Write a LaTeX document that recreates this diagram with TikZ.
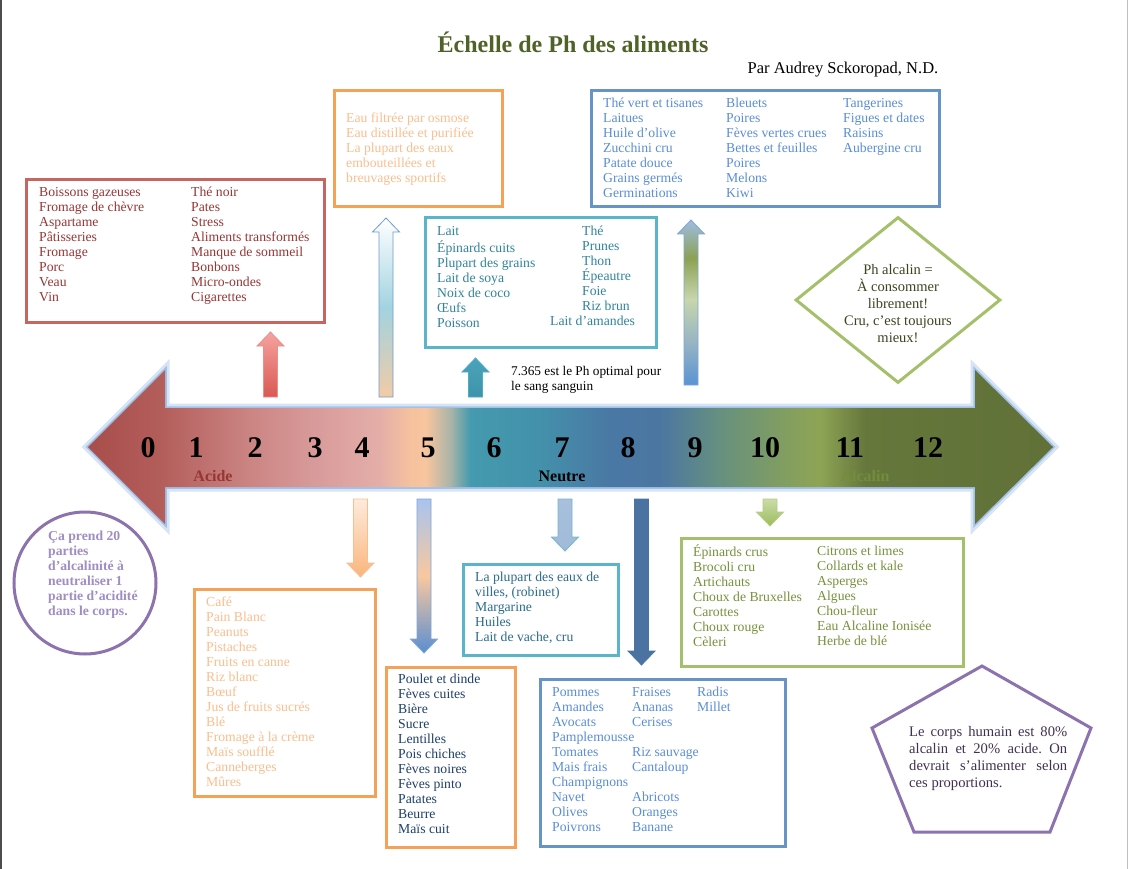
\documentclass[tikz,border=0pt]{standalone}
\usepackage{fontspec}
\setmainfont{Liberation Serif}
\usetikzlibrary{positioning}
\usetikzlibrary{shapes.geometric}

% Colours
\definecolor{titlegreen}{HTML}{4F6228}
\definecolor{acidbd}{HTML}{C76561}
\definecolor{acidtext}{HTML}{953735}
\definecolor{orangebd}{HTML}{F6A158}
\definecolor{peachtext}{HTML}{F9BF8F}
\definecolor{tealbd}{HTML}{5AB4CA}
\definecolor{tealtext}{HTML}{31849B}
\definecolor{tealdark}{HTML}{2B6C8C}
\definecolor{bluebd}{HTML}{6694C6}
\definecolor{bluetext}{HTML}{5A8ED6}
\definecolor{greenbd}{HTML}{A5C06A}
\definecolor{olivetext}{HTML}{76923C}
\definecolor{diamondtext}{HTML}{3D4420}
\definecolor{purplebd}{HTML}{8C73AE}
\definecolor{lilactext}{HTML}{9F8EC2}
\definecolor{plumtext}{HTML}{403152}
\definecolor{navytext}{HTML}{1F3F6B}
\definecolor{glowblue}{HTML}{8DB3E2}

% pH scale colours
\definecolor{ph01}{HTML}{A84E4B}
\definecolor{ph02}{HTML}{B35D5A}
\definecolor{ph03}{HTML}{CB8583}
\definecolor{ph04}{HTML}{D99C9C}
\definecolor{ph05}{HTML}{E4AEA8}
\definecolor{ph06}{HTML}{F5C19E}
\definecolor{ph07}{HTML}{F7C59E}
\definecolor{ph08}{HTML}{A8B4A8}
\definecolor{ph09}{HTML}{449AAE}
\definecolor{ph10}{HTML}{4391AB}
\definecolor{ph11}{HTML}{4A78A4}
\definecolor{ph12}{HTML}{4B76A2}
\definecolor{ph13}{HTML}{66907F}
\definecolor{ph14}{HTML}{849F5E}
\definecolor{ph15}{HTML}{8EA455}
\definecolor{ph16}{HTML}{65773B}
\definecolor{ph17}{HTML}{617138}

\pgfdeclarehorizontalshading{phscale}{100bp}{color(0bp)=(ph01); color(25bp)=(ph01);
  color(28.7bp)=(ph02); color(33.4bp)=(ph03); color(37bp)=(ph04); color(40.1bp)=(ph05);
  color(41.7bp)=(ph06); color(42.5bp)=(ph07); color(43.8bp)=(ph08); color(44.8bp)=(ph09);
  color(48.4bp)=(ph10); color(52bp)=(ph11); color(54.6bp)=(ph12); color(57.7bp)=(ph13);
  color(61.4bp)=(ph14); color(62.9bp)=(ph15); color(65.3bp)=(ph16); color(75bp)=(ph17);
  color(100bp)=(ph17)}

% Arrow colours
\definecolor{redtop}{HTML}{F5A3A0}
\definecolor{redbot}{HTML}{D95853}
\definecolor{redline}{HTML}{E8908C}
\definecolor{watermid}{HTML}{A2D3E0}
\definecolor{waterbot}{HTML}{F2CBA6}
\definecolor{waterline}{HTML}{6F9BD1}
\definecolor{tealtop}{HTML}{4BA3BA}
\definecolor{tealbot}{HTML}{3E93AA}
\definecolor{tealline}{HTML}{4BACC6}
\definecolor{greenline}{HTML}{7FA6D6}
\definecolor{peachtop}{HTML}{FDEBDD}
\definecolor{peachbot}{HTML}{FAB57C}
\definecolor{peachline}{HTML}{F9BE90}
\definecolor{bluetop}{HTML}{A8C4EE}
\definecolor{bluemid}{HTML}{F8C8A0}
\definecolor{bluebot}{HTML}{5A8ED0}
\definecolor{skytop}{HTML}{A8C0DD}
\definecolor{skybot}{HTML}{A0BAD8}
\definecolor{skyline}{HTML}{74B6CA}
\definecolor{navyfill}{HTML}{4A73A2}
\definecolor{limetop}{HTML}{CADCA8}
\definecolor{limebot}{HTML}{9CBB5C}
\definecolor{limeline}{HTML}{B5CD84}

\definecolor{upblueA}{HTML}{5A93D2}
\definecolor{upblueB}{HTML}{93B2C4}
\definecolor{upsage}{HTML}{C8D6AC}
\definecolor{upolive}{HTML}{8CA152}
\definecolor{upblueC}{HTML}{9FBDE2}
\pgfdeclareverticalshading{bluegreen}{100bp}{color(0bp)=(upblueA); color(25bp)=(upblueA);
  color(37bp)=(upblueB); color(51bp)=(upsage); color(63.5bp)=(upolive); color(75bp)=(upblueC);
  color(100bp)=(upblueC)}

\newcommand{\listfont}{\fontsize{13.7}{15}\selectfont}
% block arrows: x, tail y, tip y, options
\newcommand{\blockup}[4]{\shade[#4] (#1-7,#2) -- (#1-7,#3+14) -- (#1-13.5,#3+14) -- (#1,#3)
  -- (#1+13.5,#3+14) -- (#1+7,#3+14) -- (#1+7,#2) -- cycle;}
\newcommand{\blockdown}[4]{\shade[#4] (#1-7,#2) -- (#1-7,#3-14) -- (#1-13.5,#3-14) -- (#1,#3)
  -- (#1+13.5,#3-14) -- (#1+7,#3-14) -- (#1+7,#2) -- cycle;}

\begin{document}
\begin{tikzpicture}[x=1pt, y=-1pt,
    listtext/.style={anchor=north west, inner sep=0pt, align=left, font=\listfont},
    listbox/.style={draw, line width=3pt, anchor=north west, inner sep=0pt},
    blockarrow/.style={line width=0.8pt, line join=miter},
    scalenum/.style={anchor=base, font=\fontsize{30}{30}\selectfont\bfseries},
    scalelabel/.style={anchor=base, font=\fontsize{16}{16}\selectfont\bfseries}]
    \useasboundingbox (0,0) rectangle (1130,869);
    \fill[white] (0,0) rectangle (1130,869);
    \fill[black!70] (0,0) rectangle (2,869);
    \fill[black!25] (1127,0) rectangle (1128,869);

    % Title
    \node[anchor=base, text=titlegreen, font=\fontsize{24}{24}\selectfont\bfseries] (title) at (573,53) {Échelle de Ph des aliments};
    \node[anchor=base, font=\fontsize{16.5}{16.5}\selectfont] (author) at (843,74) {Par Audrey Sckoropad, N.D.};

    % Scale
    \shade[shading=phscale, preaction={draw=glowblue!35, line width=9pt},
      preaction={draw=glowblue!80, line width=3.5pt}]
      (88,447) -- (165,370) -- (165,408) -- (975,408) -- (975,370) -- (1053,447)
      -- (975,524) -- (975,487) -- (165,487) -- (165,524) -- cycle;
    \foreach \num/\xpos in {0/148, 1/196, 2/255, 3/315, 4/362, 5/428, 6/494,
      7/562, 8/628, 9/695, 10/765, 11/850, 12/928}
      \node[scalenum] (num\num) at (\xpos,457) {\num};
    \node[scalelabel, text=acidtext] (acide) at (213,481) {Acide};
    \node[scalelabel] (neutre) at (562,481) {Neutre};
    \node[scalelabel, text=olivetext!80!ph16] (alcalin) at (865,481) {Alcalin};

    % Boxes above
    \node[listbox, draw=acidbd, minimum width=298pt, minimum height=143pt] (acidbox) at (25,178) {};
    \node[listtext, text=acidtext] (acidlistA) at (39,185.5) {\strut Boissons gazeuses\\Fromage de chèvre\\Aspartame\\Pâtisseries\\Fromage\\Porc\\Veau\\Vin};
    \node[listtext, text=acidtext] (acidlistB) at (191,185.5) {\strut Thé noir\\Pates\\Stress\\Aliments transformés\\Manque de sommeil\\Bonbons\\Micro-ondes\\Cigarettes};

    \node[listbox, draw=orangebd, minimum width=168pt, minimum height=116pt] (waterbox) at (333,89) {};
    \node[listtext, text=peachtext] (waterlist) at (346,111.5) {\strut Eau filtrée par osmose\\Eau distillée et purifiée\\La plupart des eaux\\embouteillées et\\breuvages sportifs};

    \node[listbox, draw=tealbd, minimum width=231pt, minimum height=130pt] (neutralbox) at (424,216) {};
    \node[listtext, text=tealtext] (neutrallistA) at (437,224.5) {\strut Lait\\Épinards cuits\\Plupart des grains\\Lait de soya\\Noix de coco\\Œufs\\Poisson};
    \node[listtext, text=tealtext] (neutrallistB) at (582,224.5) {\strut Thé\\Prunes\\Thon\\Épeautre\\Foie\\Riz brun};
    \node[listtext, text=tealtext] (neutralamandes) at (550,314.5) {\strut Lait d’amandes};

    \node[listbox, draw=bluebd, minimum width=348pt, minimum height=116pt] (greenteabox) at (590,89) {};
    \node[listtext, text=bluetext] (greentealistA) at (603,96.5) {\strut Thé vert et tisanes\\Laitues\\Huile d’olive\\Zucchini cru\\Patate douce\\Grains germés\\Germinations};
    \node[listtext, text=bluetext] (greentealistB) at (726,96.5) {\strut Bleuets\\Poires\\Fèves vertes crues\\Bettes et feuilles\\Poires\\Melons\\Kiwi};
    \node[listtext, text=bluetext] (greentealistC) at (843,96.5) {\strut Tangerines\\Figues et dates\\Raisins\\Aubergine cru};

    \node[diamond, draw=greenbd, line width=3pt, minimum width=205pt, minimum height=166pt, inner sep=0pt] (alcdiamond) at (898,300) {};
    \node[align=center, text=diamondtext, font=\fontsize{14.5}{17}\selectfont] (alcnote) at (898,303.5) {Ph alcalin =\\À consommer\\librement!\\Cru, c’est toujours\\mieux!};

    \node[anchor=north west, inner sep=0pt, align=left, font=\fontsize{13.3}{15}\selectfont] (bloodnote) at (511,364.5) {\strut 7.365 est le Ph optimal pour\\le sang sanguin};

    % Arrows
    \blockup{270.5}{397}{332}{blockarrow, top color=redtop, bottom color=redbot, draw=redline}
    \blockup{386}{397}{218}{blockarrow, top color=white, bottom color=waterbot, middle color=watermid, draw=waterline}
    \blockup{475.5}{397}{358}{blockarrow, top color=tealtop, bottom color=tealbot, draw=tealline}
    \blockup{691}{385}{220}{blockarrow, shading=bluegreen, draw=greenline}
    \blockdown{360.5}{499}{577}{blockarrow, top color=peachtop, bottom color=peachbot, draw=peachline}
    \blockdown{424}{499}{653}{blockarrow, top color=bluetop, bottom color=bluebot, middle color=bluemid, draw=greenline}
    \blockdown{565}{499}{551}{blockarrow, top color=skytop, bottom color=skybot, draw=skyline}
    \blockdown{641.5}{499}{665}{blockarrow, top color=navyfill, bottom color=navyfill, draw=navyfill}
    \blockdown{770}{499}{526}{blockarrow, top color=limetop, bottom color=limebot, draw=limeline}

    % Boxes below
    \node[circle, draw=purplebd, line width=3pt, minimum size=142pt, inner sep=0pt] (ratiocircle) at (85,583) {};
    \node[listtext, text=lilactext, font=\listfont\bfseries] (ratiotext) at (48,529.5) {\strut Ça prend 20\\parties\\d’alcalinité à\\neutraliser 1\\partie d’acidité\\dans le corps.};

    \node[listbox, draw=orangebd, minimum width=181pt, minimum height=207pt] (coffeebox) at (193,588) {};
    \node[listtext, text=peachtext] (coffeelist) at (206,595.5) {\strut Café\\Pain Blanc\\Peanuts\\Pistaches\\Fruits en canne\\Riz blanc\\Bœuf\\Jus de fruits sucrés\\Blé\\Fromage à la crème\\Maïs soufflé\\Canneberges\\Mûres};

    \node[listbox, draw=orangebd, minimum width=129pt, minimum height=180pt] (chickenbox) at (385,666) {};
    \node[listtext, text=navytext] (chickenlist) at (398,672.5) {\strut Poulet et dinde\\Fèves cuites\\Bière\\Sucre\\Lentilles\\Pois chiches\\Fèves noires\\Fèves pinto\\Patates\\Beurre\\Maïs cuit};

    \node[listbox, draw=tealbd, minimum width=155pt, minimum height=91pt] (tapbox) at (462,563) {};
    \node[listtext, text=tealdark] (taplist) at (475,570.5) {\strut La plupart des eaux de\\villes, (robinet)\\Margarine\\Huiles\\Lait de vache, cru};

    \node[listbox, draw=bluebd, minimum width=245pt, minimum height=167pt] (fruitbox) at (539,678) {};
    \node[listtext, text=bluetext] (fruitlistA) at (552,685.5) {\strut Pommes\\Amandes\\Avocats\\Pamplemousse\\Tomates\\Mais frais\\Champignons\\Navet\\Olives\\Poivrons};
    \node[listtext, text=bluetext] (fruitlistB) at (632,685.5) {\strut Fraises\\Ananas\\Cerises\\\strut\\Riz sauvage\\Cantaloup\\\strut\\Abricots\\Oranges\\Banane};
    \node[listtext, text=bluetext] (fruitlistC) at (697,685.5) {\strut Radis\\Millet};

    \node[listbox, draw=greenbd, minimum width=282pt, minimum height=128pt] (veggiebox) at (680,537) {};
    \node[listtext, text=olivetext] (veggielistA) at (693,544.5) {\strut Épinards crus\\Brocoli cru\\Artichauts\\Choux de Bruxelles\\Carottes\\Choux rouge\\Cèleri};
    \node[listtext, text=olivetext] (veggielistB) at (817,544.5) {\strut Citrons et limes\\Collards et kale\\Asperges\\Algues\\Chou-fleur\\Eau Alcaline Ionisée\\Herbe de blé};

    \draw[draw=purplebd, line width=3pt] (982,666) -- (1091,728) -- (1050,832) -- (914,832) -- (872,728) -- cycle;
    \node[anchor=north west, inner sep=0pt, text width=158pt, align=justify, text=plumtext,
      font=\fontsize{14.6}{17}\selectfont] (bodynote) at (909,724)
      {\frenchspacing\hyphenpenalty=10000\exhyphenpenalty=10000\strut Le corps humain est 80\% alcalin et 20\% acide. On devrait s’alimenter selon ces proportions.};
\end{tikzpicture}
\end{document}
